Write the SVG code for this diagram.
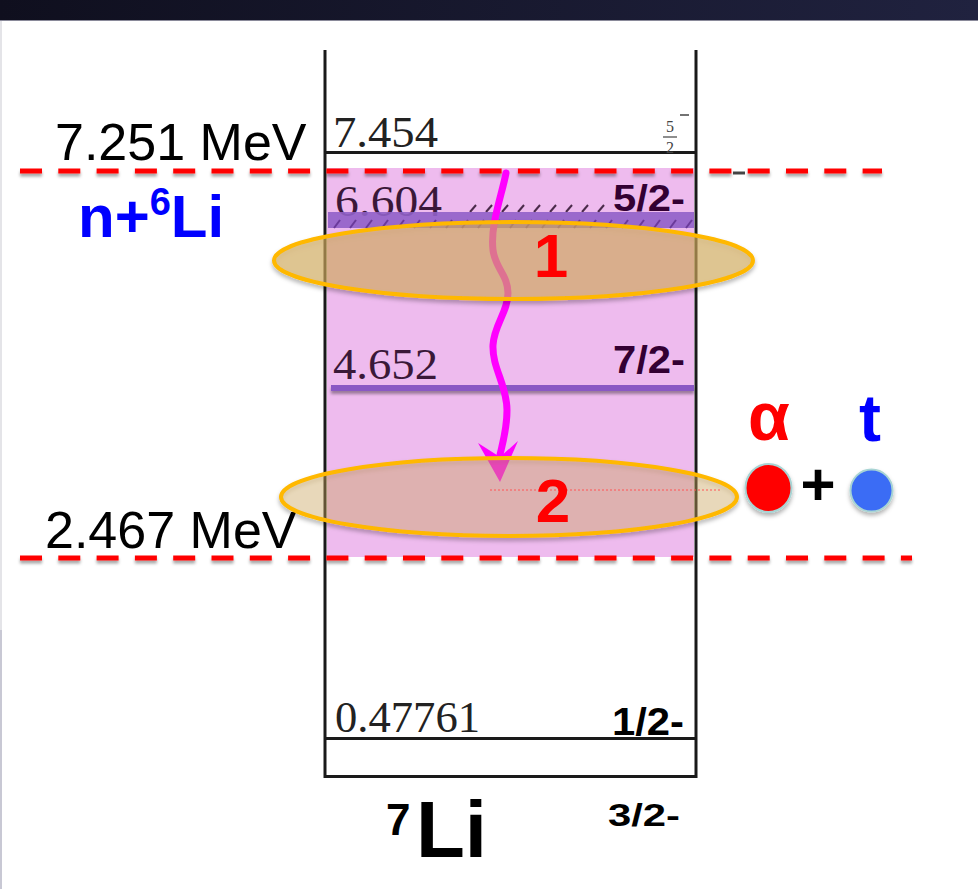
<svg xmlns="http://www.w3.org/2000/svg" width="978" height="889" viewBox="0 0 978 889">
<defs>
  <linearGradient id="bar" x1="0" y1="0" x2="1" y2="0">
    <stop offset="0" stop-color="#0f0f1e"/>
    <stop offset="1" stop-color="#20223f"/>
  </linearGradient>
  <filter id="sh" filterUnits="userSpaceOnUse" x="0" y="0" width="978" height="889">
    <feDropShadow dx="0" dy="3" stdDeviation="1.5" flood-color="#000" flood-opacity="0.35"/>
  </filter>
  <filter id="sh2" x="-20%" y="-20%" width="140%" height="150%">
    <feDropShadow dx="0" dy="3" stdDeviation="2" flood-color="#000" flood-opacity="0.3"/>
  </filter>
  <style>
    .lvl{font-family:"Liberation Serif",serif;font-size:45px;}
    .spin{font-family:"Liberation Sans",Arial,sans-serif;font-weight:bold;}
    .mev{font-family:"Liberation Sans",Arial,sans-serif;font-size:52px;fill:#000;}
    .box{stroke:#1a1a1a;stroke-width:3;fill:none;}
    .dash{stroke:#ff0000;stroke-width:5;stroke-dasharray:22 16.3;fill:none;}
    .ell{stroke:#ffb800;stroke-width:4;fill:rgb(217,177,97);}
    .num{font-family:"Liberation Sans",Arial,sans-serif;font-weight:bold;font-size:62px;fill:#ff0000;text-anchor:middle;}
    .hatch{stroke:#4a2a4a;stroke-width:2;}
  </style>
</defs>

<rect x="0" y="0" width="978" height="889" fill="#ffffff"/>
<rect x="0" y="0" width="978" height="20" fill="url(#bar)"/>
<line x1="0" y1="20.5" x2="978" y2="20.5" stroke="#8a8a9a" stroke-width="1"/>
<line x1="1" y1="21" x2="1" y2="889" stroke="#e4e4e8" stroke-width="2"/>
<line x1="1" y1="630" x2="1" y2="889" stroke="#c8c8d4" stroke-width="2"/>

<g id="pink-region">
  <rect x="327" y="168" width="367" height="389" fill="#eebbee"/>
</g>

<g id="level-diagram">
  <line class="box" x1="325" y1="50" x2="325" y2="778"/>
  <line class="box" x1="696" y1="50" x2="696" y2="778"/>
  <line class="box" x1="324" y1="152.5" x2="697" y2="152.5"/>
  <line class="box" x1="324" y1="738.5" x2="697" y2="738.5"/>
  <line class="box" x1="324" y1="776.5" x2="697" y2="776.5"/>
</g>

<g id="level-7454">
  <text class="lvl" x="333" y="147" fill="#222" textLength="105" lengthAdjust="spacingAndGlyphs">7.454</text>
  <text x="670" y="132" font-family="Liberation Serif,serif" font-size="16" fill="#444" text-anchor="middle">5</text>
  <line x1="663" y1="137" x2="677" y2="137" stroke="#444" stroke-width="1.2"/>
  <text x="670" y="153" font-family="Liberation Serif,serif" font-size="16" fill="#444" text-anchor="middle">2</text>
  <line x1="680" y1="115" x2="689" y2="115" stroke="#444" stroke-width="1.5"/>
</g>

<g id="level-6604">
  <text class="lvl" x="335" y="216" fill="#3a1838" textLength="107" lengthAdjust="spacingAndGlyphs">6.604</text>
  <g class="hatch">
    <line x1="470" y1="212" x2="476" y2="205"/>
    <line x1="486" y1="212" x2="492" y2="205"/>
    <line x1="502" y1="212" x2="508" y2="205"/>
    <line x1="518" y1="212" x2="524" y2="205"/>
    <line x1="534" y1="212" x2="540" y2="205"/>
    <line x1="550" y1="212" x2="556" y2="205"/>
    <line x1="566" y1="212" x2="572" y2="205"/>
    <line x1="582" y1="212" x2="588" y2="205"/>
    <line x1="598" y1="212" x2="604" y2="205"/>
  </g>
  <rect x="328" y="212" width="366" height="16" fill="#9060c8" opacity="0.9"/>
  <g stroke="#6a3a9a" stroke-width="2">
    <line x1="334" y1="228" x2="340" y2="220"/>
    <line x1="350" y1="228" x2="356" y2="220"/>
    <line x1="366" y1="228" x2="372" y2="220"/>
    <line x1="382" y1="228" x2="388" y2="220"/>
    <line x1="398" y1="228" x2="404" y2="220"/>
    <line x1="414" y1="228" x2="420" y2="220"/>
    <line x1="430" y1="228" x2="436" y2="220"/>
    <line x1="446" y1="228" x2="452" y2="220"/>
    <line x1="462" y1="228" x2="468" y2="220"/>
    <line x1="478" y1="228" x2="484" y2="220"/>
    <line x1="494" y1="228" x2="500" y2="220"/>
    <line x1="510" y1="228" x2="516" y2="220"/>
    <line x1="526" y1="228" x2="532" y2="220"/>
    <line x1="542" y1="228" x2="548" y2="220"/>
    <line x1="558" y1="228" x2="564" y2="220"/>
    <line x1="574" y1="228" x2="580" y2="220"/>
    <line x1="590" y1="228" x2="596" y2="220"/>
    <line x1="606" y1="228" x2="612" y2="220"/>
    <line x1="622" y1="228" x2="628" y2="220"/>
    <line x1="638" y1="228" x2="644" y2="220"/>
    <line x1="654" y1="228" x2="660" y2="220"/>
    <line x1="670" y1="228" x2="676" y2="220"/>
    <line x1="686" y1="228" x2="692" y2="220"/>
  </g>
  <text class="spin" x="613" y="211" font-size="37" fill="#330033" textLength="72" lengthAdjust="spacingAndGlyphs">5/2-</text>
</g>

<g id="level-4652">
  <text class="lvl" x="333" y="379" fill="#3a1838" textLength="105" lengthAdjust="spacingAndGlyphs">4.652</text>
  <rect x="331" y="385" width="363" height="6" fill="#8a58c4" filter="url(#sh)"/>
  <text class="spin" x="613" y="373" font-size="38" fill="#330033" textLength="72" lengthAdjust="spacingAndGlyphs">7/2-</text>
</g>

<g id="level-047761">
  <text class="lvl" x="335" y="732" fill="#222" textLength="145" lengthAdjust="spacingAndGlyphs">0.47761</text>
  <text class="spin" x="612" y="735" font-size="38" fill="#000" textLength="72" lengthAdjust="spacingAndGlyphs">1/2-</text>
</g>

<g id="ground-state">
  <text class="spin" x="608" y="826" font-size="31" fill="#000" textLength="72" lengthAdjust="spacingAndGlyphs">3/2-</text>
</g>

<g id="thresholds">
  <line class="dash" x1="20" y1="171" x2="882" y2="171" filter="url(#sh)"/>
  <line x1="733" y1="173" x2="745" y2="173" stroke="#444" stroke-width="3"/>
  <line class="dash" x1="20" y1="558" x2="912" y2="558" filter="url(#sh)"/>
  <text class="mev" x="55" y="160">7.251 MeV</text>
  <text class="mev" x="45" y="548">2.467 MeV</text>
  <text x="78" y="237" font-family="Liberation Sans,Arial,sans-serif" font-weight="bold" font-size="60" fill="#0000ff">n+<tspan font-size="38" dy="-22">6</tspan><tspan dy="22">Li</tspan></text>
</g>

<g id="connectors">
  <path d="M506,173 C502,195 490,225 493,250 C495,268 508,275 508,293 C508,312 494,325 493,345 C492,368 507,385 507,410 C507,430 502,445 500,455" fill="none" stroke="#ff00ff" stroke-width="7" stroke-linecap="round"/>
  <polygon points="478,443 500,457 518,441 500,482" fill="#ff00ff"/>
</g>

<g id="region-1">
  <ellipse class="ell" cx="513.5" cy="260.5" rx="239.5" ry="38.5" fill-opacity="0.6" filter="url(#sh2)"/>
  <text class="num" x="551" y="277">1</text>
</g>

<g id="region-2">
  <ellipse class="ell" cx="509" cy="497" rx="228" ry="39" fill-opacity="0.35" filter="url(#sh2)"/>
  <line x1="490" y1="490" x2="720" y2="490" stroke="#ff5555" stroke-width="1" stroke-dasharray="2 2"/>
  <text class="num" x="553" y="522">2</text>
</g>

<g id="alpha-t">
  <text x="769" y="440" font-family="Liberation Sans,Arial,sans-serif" font-weight="bold" font-size="68" fill="#ff0000" text-anchor="middle">α</text>
  <text x="870" y="441" font-family="Liberation Sans,Arial,sans-serif" font-weight="bold" font-size="66" fill="#0000ff" text-anchor="middle">t</text>
  <ellipse cx="768.5" cy="488" rx="23" ry="24" fill="#ff0000" stroke="#a8d4d4" stroke-width="2" filter="url(#sh2)"/>
  <text x="818" y="505" font-family="Liberation Sans,Arial,sans-serif" font-weight="bold" font-size="60" fill="#000" text-anchor="middle">+</text>
  <ellipse cx="871.5" cy="490.5" rx="21" ry="21" fill="#3a6cf5" stroke="#a8d4d4" stroke-width="2" filter="url(#sh2)"/>
</g>

<g id="nucleus-label">
  <text x="386" y="835" font-family="Liberation Sans,Arial,sans-serif" font-weight="bold" font-size="44" fill="#000">7</text>
  <text x="416" y="857" font-family="Liberation Sans,Arial,sans-serif" font-weight="bold" font-size="80" fill="#000">Li</text>
</g>
</svg>
